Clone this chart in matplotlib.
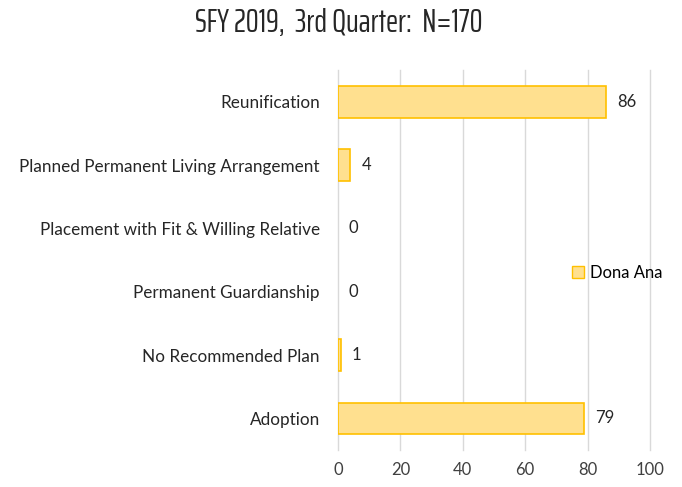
import matplotlib.pyplot as plt
from matplotlib.lines import Line2D

categories = ["Reunification",
              "Planned Permanent Living Arrangement",
              "Placement with Fit & Willing Relative",
              "Permanent Guardianship",
              "No Recommended Plan",
              "Adoption"]
values = [86, 4, 0, 0, 1, 79]
series_name = "Dona Ana"
title = "SFY 2019,  3rd Quarter:  N=170"
xticks = [0, 20, 40, 60, 80, 100]

plt.rcParams['font.family'] = ['Lato', 'DejaVu Sans']

fig = plt.figure(figsize=(6.82, 4.87), dpi=100)
ax = fig.add_axes([0.4956, 0.076, 0.4575, 0.78])

ypos = list(range(len(categories)))[::-1]
# no outline on empty bars
edge_w = [1.2 if v > 0 else 0 for v in values]
ax.barh(ypos, values, height=0.5, color='#FFE08F', edgecolor='#FFC000',
        linewidth=edge_w, zorder=3)

for y, v in zip(ypos, values):
    ax.text(v + 3.5, y, str(v), va='center', ha='left', fontsize=12,
            color='#262626')

ax.set_xlim(0, 100)
ax.set_ylim(-0.5, len(categories) - 0.5)
ax.set_xticks(xticks)
ax.set_yticks(ypos)
ax.set_yticklabels(categories, fontsize=12.3, color='#262626')
ax.tick_params(axis='x', labelsize=12, labelcolor='#404040', length=0, pad=9)
ax.tick_params(axis='y', length=0, pad=13)
ax.grid(axis='x', color='#D9D9D9', linewidth=1, zorder=0)
for gl in ax.get_xgridlines():
    gl.set_clip_on(False)
for s in ax.spines.values():
    s.set_visible(False)

handle = Line2D([], [], marker='s', linestyle='none', markersize=8,
                markerfacecolor='#FFE08F', markeredgecolor='#FFC000')
fig.legend([handle], [series_name], loc='center left',
           bbox_to_anchor=(0.826, 0.44), frameon=False, fontsize=12,
           handlelength=1.0, handletextpad=0.2, borderaxespad=0)

fig.text(0.497, 0.953, title, ha='center', va='center', fontsize=23.5,
         color='#262626', family=['Saira ExtraCondensed', 'DejaVu Sans'])

fig.savefig('out.png', dpi=100)
